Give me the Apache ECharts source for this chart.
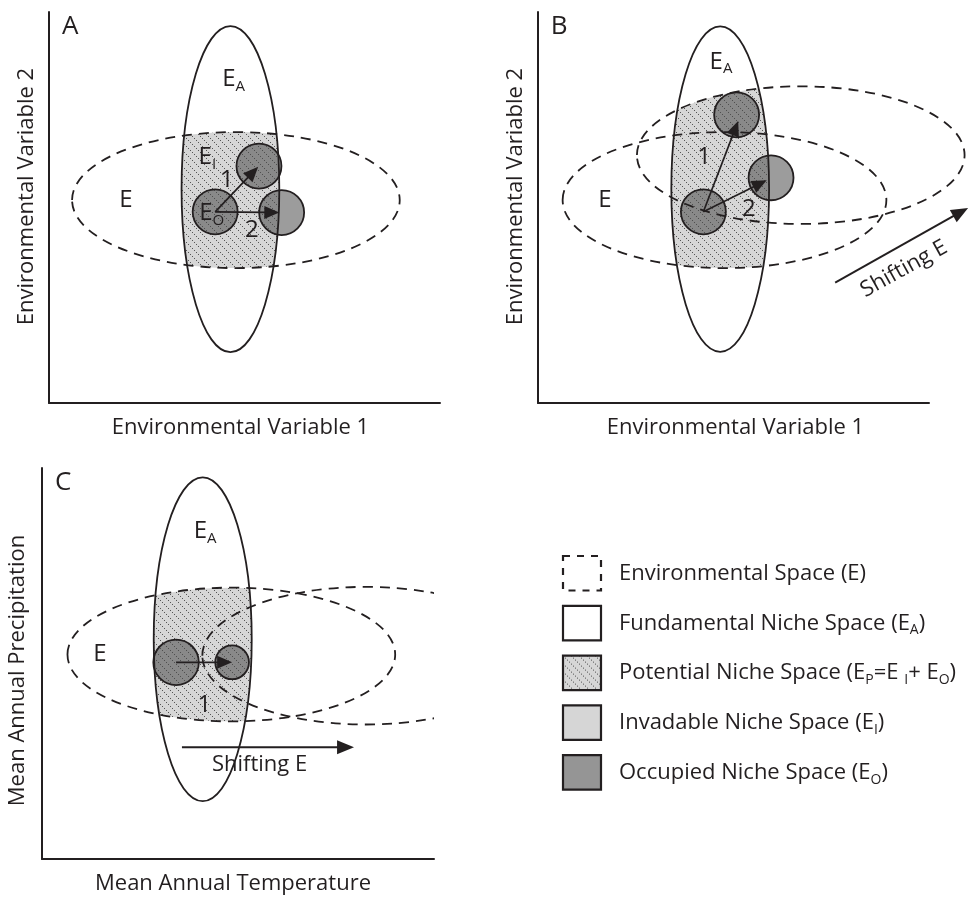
<!DOCTYPE html>
<html>
<head>
<meta charset="utf-8">
<script src="https://cdn.jsdelivr.net/npm/echarts@6/dist/echarts.min.js"></script>
<style>html,body{margin:0;padding:0;background:#fff}#c{width:977px;height:899px}</style>
</head>
<body>
<div id="c"></div>
<script>
// ---------------- DATA (axis units 0..100 in each panel) ----------------
const panelLetters = ['A', 'B', 'C'];
const xAxisTitles = ['Environmental Variable 1', 'Environmental Variable 1', 'Mean Annual Temperature'];
const yAxisTitles = ['Environmental Variable 2', 'Environmental Variable 2', 'Mean Annual Precipitation'];
const letterPos = [5.4, 96.2];

// Fundamental niche E_A : [cx, cy, rx, ry]
const nicheA = [46.4, 54.7, 12.5, 41.7];
const nicheB = [46.6, 54.7, 12.5, 41.6];
const nicheC = [41.0, 56.2, 12.5, 41.4];

// Environmental space E : [cx, cy, rx, ry]
const envA = [[47.8, 51.9, 41.9, 17.4]];
const envB = [[47.7, 51.9, 41.4, 17.4], [67.2, 63.4, 41.9, 17.6]];
const envC = [[48.3, 52.3, 41.8, 17.1], [82.6, 52.0, 41.7, 17.6]];

// Occupied niche E_O : [cx, cy, r]
const occA = [[42.5, 48.9, 5.75], [53.7, 60.6, 5.75], [59.5, 48.7, 5.75]];
const occB = [[42.3, 48.9, 5.75], [50.8, 73.7, 5.75], [59.6, 57.6, 5.75]];
const occC = [[34.2, 50.3, 5.8], [48.5, 50.3, 4.3]];

// Niche shift arrows : [x1, y1, x2, y2]
const arrowsA = [[42.5, 48.9, 53.5, 60.4], [42.5, 48.9, 58.9, 48.7]];
const arrowsB = [[42.3, 48.9, 51.2, 72.1], [42.3, 48.9, 58.5, 57.0]];
const arrowsC = [[34.2, 50.3, 48.5, 50.3]];

// "Shifting E" arrows : [x1, y1, x2, y2]
const shiftA = [];
const shiftB = [[76.0, 30.8, 110.0, 49.9]];
const shiftC = [[35.7, 28.6, 79.6, 28.6]];

// "Shifting E" text : [x, y, angleDeg]
const shiftTextA = [];
const shiftTextB = [[93.6, 34.3, 29]];
const shiftTextC = [[55.5, 24.0, 0]];

// Labels : [x, y, main, subscript]
const labelsA = [[47.2, 82.7, 'E', 'A'], [40.5, 62.8, 'E', 'I'], [19.7, 51.9, 'E', ''], [41.6, 48.5, 'E', 'O'], [45.5, 56.9, '1', ''], [51.9, 44.2, '2', '']];
const labelsB = [[46.8, 87.3, 'E', 'A'], [17.1, 51.9, 'E', ''], [42.5, 62.9, '1', ''], [53.9, 49.7, '2', '']];
const labelsC = [[41.6, 83.9, 'E', 'A'], [14.8, 52.4, 'E', ''], [41.4, 39.4, '1', '']];

// Legend entries
const legendNames = [
  '{t|Environmental Space (E)}',
  '{t|Fundamental Niche Space (E}{s|A}{t|)}',
  '{t|Potential Niche Space (E}{s|P}{t|=E }{s|I}{t|+ E}{s|O}{t|)}',
  '{t|Invadable Niche Space (E}{s|I}{t|)}',
  '{t|Occupied Niche Space (E}{s|O}{t|)}'
];

// ---------------- STYLE ----------------
const FONT = '"Open Sans", "Noto Sans", sans-serif';
const INK = '#231f20';
const GRAY_LIGHT = '#d6d6d6';
const GRAY_OCC = '#959595';

function makeHatch(withBg) {
  const c = document.createElement('canvas');
  c.width = 8; c.height = 8;
  const g = c.getContext('2d');
  if (withBg) { g.fillStyle = GRAY_LIGHT; g.fillRect(0, 0, 8, 8); }
  g.fillStyle = '#555555';
  [0, 2, 4, 6].forEach(i => g.fillRect(i, i, 1, 1));
  return { image: c, repeat: 'repeat' };
}
const HATCH = makeHatch(true);

const grids = [
  { left: 49, top: 12, width: 391, height: 391 },
  { left: 538, top: 12, width: 391, height: 391 },
  { left: 42, top: 468, width: 392, height: 391 }
];
const yNameGap = [11, 11, 13];
const yNamePad = [[0, 0, 0, 22], [0, 0, 0, 22], [0, 14, 0, 0]];
const xNamePad = [[0, 8, 0, 0], [0, 0, 0, 4], [0, 10, 0, 0]];

const panels = [
  { niche: nicheA, env: envA, occ: occA, arrows: arrowsA, shift: shiftA, shiftText: shiftTextA, labels: labelsA, clipEnv: false },
  { niche: nicheB, env: envB, occ: occB, arrows: arrowsB, shift: shiftB, shiftText: shiftTextB, labels: labelsB, clipEnv: false },
  { niche: nicheC, env: envC, occ: occC, arrows: arrowsC, shift: shiftC, shiftText: shiftTextC, labels: labelsC, clipEnv: true }
];

function ellShape(api, e) {
  const c = api.coord([e[0], e[1]]);
  const s = api.size([e[2], e[3]]);
  return { cx: c[0], cy: c[1], rx: s[0], ry: s[1] };
}

function arrowRender(headLen, headHalf, lw) {
  return function (params, api) {
    const p1 = api.coord([api.value(0), api.value(1)]);
    const p2 = api.coord([api.value(2), api.value(3)]);
    const dx = p2[0] - p1[0], dy = p2[1] - p1[1];
    const L = Math.hypot(dx, dy), ux = dx / L, uy = dy / L;
    const bx = p2[0] - ux * headLen, by = p2[1] - uy * headLen;
    return {
      type: 'group', children: [
        { type: 'line', shape: { x1: p1[0], y1: p1[1], x2: bx + ux, y2: by + uy }, style: { stroke: INK, lineWidth: lw } },
        { type: 'polygon', shape: { points: [[p2[0], p2[1]], [bx - uy * headHalf, by + ux * headHalf], [bx + uy * headHalf, by - ux * headHalf]] }, style: { fill: INK } }
      ]
    };
  };
}

const series = [];
panels.forEach((p, i) => {
  const base = { type: 'custom', xAxisIndex: i, yAxisIndex: i, silent: true, animation: false };
  // hatched potential niche (E ∩ E_A)
  series.push(Object.assign({}, base, {
    z: 1, data: p.env,
    renderItem: (params, api) => ({
      type: 'group',
      clipPath: { type: 'ellipse', shape: ellShape(api, p.niche) },
      children: [{ type: 'ellipse', shape: ellShape(api, [api.value(0), api.value(1), api.value(2), api.value(3)]), style: { fill: HATCH, stroke: null } }]
    })
  }));
  // occupied niche circles
  series.push(Object.assign({}, base, {
    z: 2, data: p.occ,
    renderItem: (params, api) => {
      const c = api.coord([api.value(0), api.value(1)]);
      const r = api.size([api.value(2), 0])[0];
      return { type: 'circle', shape: { cx: c[0], cy: c[1], r: r }, style: { fill: 'rgba(75,75,75,0.55)', stroke: INK, lineWidth: 1.8 } };
    }
  }));
  // fundamental niche outline
  series.push(Object.assign({}, base, {
    z: 3, data: [p.niche],
    renderItem: (params, api) => ({ type: 'ellipse', shape: ellShape(api, [api.value(0), api.value(1), api.value(2), api.value(3)]), style: { fill: 'none', stroke: INK, lineWidth: 1.8 } })
  }));
  // environmental space outlines
  series.push(Object.assign({}, base, {
    z: 3, data: p.env,
    renderItem: (params, api) => {
      const el = { type: 'ellipse', shape: ellShape(api, [api.value(0), api.value(1), api.value(2), api.value(3)]), style: { fill: 'none', stroke: INK, lineWidth: 1.8, lineDash: [10, 7] } };
      if (!p.clipEnv) return el;
      const cs = params.coordSys;
      return { type: 'group', clipPath: { type: 'rect', shape: { x: cs.x - 2, y: cs.y, width: cs.width + 2, height: cs.height } }, children: [el] };
    }
  }));
  // niche shift arrows
  series.push(Object.assign({}, base, { z: 4, data: p.arrows, renderItem: arrowRender(15, 6.5, 1.7) }));
  // shifting E arrows
  series.push(Object.assign({}, base, { z: 4, data: p.shift, renderItem: arrowRender(17, 7, 2) }));
  // shifting E text
  series.push(Object.assign({}, base, {
    z: 5, data: p.shiftText.map(d => [d[0], d[1]]),
    renderItem: (params, api) => {
      const c = api.coord([api.value(0), api.value(1)]);
      const ang = p.shiftText[params.dataIndex][2] * Math.PI / 180;
      return { type: 'text', x: c[0], y: c[1], rotation: ang, style: { text: 'Shifting E', fill: INK, font: '22px ' + FONT, align: 'center', verticalAlign: 'middle' } };
    }
  }));
  // labels
  series.push(Object.assign({}, base, {
    z: 5, data: p.labels.map(d => [d[0], d[1]]),
    renderItem: (params, api) => {
      const c = api.coord([api.value(0), api.value(1)]);
      const L = p.labels[params.dataIndex];
      const txt = '{m|' + L[2] + '}' + (L[3] ? '{s|' + L[3] + '}' : '');
      return {
        type: 'text', x: c[0], y: c[1],
        style: {
          text: txt, fill: INK, align: 'center', verticalAlign: 'middle',
          rich: {
            m: { fontSize: 24, fontFamily: FONT, lineHeight: 30, fill: INK },
            s: { fontSize: 15, fontFamily: FONT, lineHeight: 11, verticalAlign: 'bottom', fill: INK }
          }
        }
      };
    }
  }));
  // panel letter
  series.push(Object.assign({}, base, {
    z: 5, data: [letterPos],
    renderItem: (params, api) => {
      const c = api.coord([api.value(0), api.value(1)]);
      return { type: 'text', x: c[0], y: c[1], style: { text: panelLetters[i], fill: INK, font: '26px ' + FONT, align: 'center', verticalAlign: 'middle' } };
    }
  }));
});

const axisCommon = {
  type: 'value', min: 0, max: 100,
  axisLine: { show: true, onZero: false, lineStyle: { color: INK, width: 2 } },
  axisTick: { show: false }, axisLabel: { show: false }, splitLine: { show: false },
  nameLocation: 'middle'
};
const nameStyle = { color: INK, fontSize: 22, fontFamily: FONT };

// Legend (graphic)
const legendFills = [
  { fill: 'none', lineDash: [7, 7] },
  { fill: '#ffffff' },
  { fill: HATCH },
  { fill: GRAY_LIGHT },
  { fill: GRAY_OCC }
];
const legendGraphics = [];
legendNames.forEach((nm, i) => {
  const top = 556 + i * 49.8;
  const st = legendFills[i];
  legendGraphics.push({
    type: 'rect', x: 563, y: top, shape: { x: 0, y: 0, width: 38, height: 34.5 },
    style: { fill: st.fill, stroke: INK, lineWidth: 2.2, lineDash: st.lineDash || null }
  });
  legendGraphics.push({
    type: 'text', x: 619, y: top + 17.5,
    style: {
      text: nm, fill: INK, align: 'left', verticalAlign: 'middle',
      rich: {
        t: { fontSize: 22, fontFamily: FONT, lineHeight: 28, fill: INK },
        s: { fontSize: 14, fontFamily: FONT, lineHeight: 11, verticalAlign: 'bottom', fill: INK }
      }
    }
  });
});

const chart = echarts.init(document.getElementById('c'), null, { renderer: 'canvas' });
chart.setOption({
  animation: false,
  backgroundColor: '#ffffff',
  grid: grids.map(g => Object.assign({ outerBoundsMode: 'none', containLabel: false }, g)),
  xAxis: grids.map((g, i) => Object.assign({}, axisCommon, { gridIndex: i, name: xAxisTitles[i], nameGap: 14, nameTextStyle: Object.assign({ padding: xNamePad[i] }, nameStyle) })),
  yAxis: grids.map((g, i) => Object.assign({}, axisCommon, { gridIndex: i, name: yAxisTitles[i], nameGap: yNameGap[i], nameTextStyle: Object.assign({ padding: yNamePad[i] }, nameStyle) })),
  series: series,
  graphic: legendGraphics
});
</script>
</body>
</html>
